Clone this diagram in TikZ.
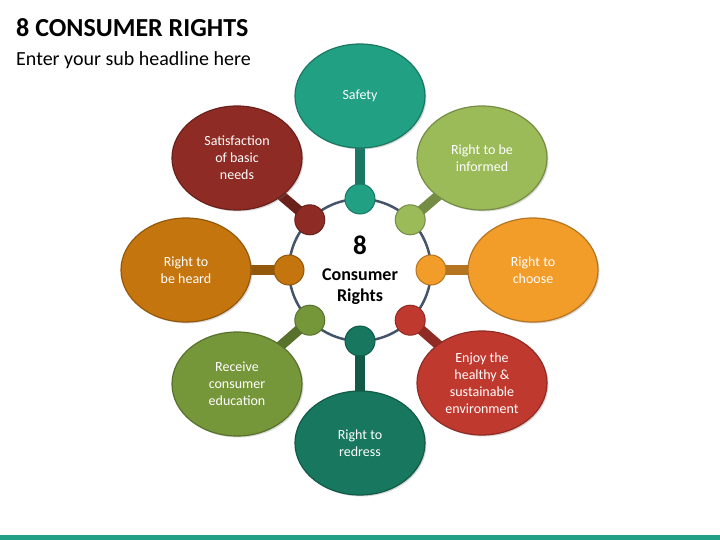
\documentclass[tikz,border=0pt]{standalone}
\usepackage{fontspec}
\setmainfont{Carlito}
\usetikzlibrary{shapes.geometric}
\usetikzlibrary{backgrounds}
\usetikzlibrary{shadows}

\definecolor{safetyC}{HTML}{21A084}
\definecolor{informC}{HTML}{9BBB59}
\definecolor{chooseC}{HTML}{F29C2A}
\definecolor{enjoyC}{HTML}{C0392F}
\definecolor{redressC}{HTML}{17785F}
\definecolor{educC}{HTML}{76963A}
\definecolor{heardC}{HTML}{C5750E}
\definecolor{satisC}{HTML}{8D2B24}
\definecolor{ringC}{HTML}{44546A}
\definecolor{barC}{HTML}{22A085}

\tikzset{
  hub/.style={circle, draw=ringC, line width=2.5pt, fill=white,
    minimum size=142pt, inner sep=0pt, outer sep=0pt, align=center,
    font=\bfseries\fontsize{18}{21}\selectfont},
  dot/.style={circle, minimum size=30pt, inner sep=0pt,
    fill=#1, draw=#1!75!black, line width=1pt},
  bubble/.style={ellipse, minimum width=130pt, minimum height=104pt,
    inner sep=0pt, fill=#1, draw=#1!75!black, line width=1.2pt,
    text=white, align=center, font=\fontsize{14}{17}\selectfont,
    drop shadow={shadow xshift=1.5pt, shadow yshift=-1.5pt, opacity=0.3}},
  link/.style={line width=10pt, draw=#1!75!black}
}

\begin{document}
\begin{tikzpicture}[x=1pt,y=-1pt]
  \useasboundingbox (0,0) rectangle (720,540);

  % heading
  \node[anchor=base west, inner sep=0pt, font=\bfseries\fontsize{26}{30}\selectfont] (title) at (16,37) {8 CONSUMER RIGHTS};
  \node[anchor=base west, inner sep=0pt, font=\fontsize{20}{24}\selectfont] (subtitle) at (16,66) {Enter your sub headline here};

  % bottom bar
  \fill[barC] (0,535) rectangle (720,540);

  % central ring
  \node[hub] (hub) at (360,270) {{\fontsize{27}{27}\selectfont 8}\\[5pt] Consumer\\ Rights};

  % small circles on the ring
  \foreach \name/\ang/\col in {safe/90/safetyC, inform/45/informC, choose/0/chooseC,
      enjoy/-45/enjoyC, redress/-90/redressC, educ/-135/educC, heard/180/heardC, satis/135/satisC}
    \node[dot=\col] (d-\name) at (hub.\ang) {};

  % rights
  \node[bubble=safetyC] (safe) at (360,96) {Safety};
  \node[bubble=informC] (inform) at (482,158) {Right to be\\informed};
  \node[bubble=chooseC] (choose) at (533,270) {Right to\\choose};
  \node[bubble=enjoyC] (enjoy) at (482,383) {Enjoy the\\healthy \&\\sustainable\\environment};
  \node[bubble=redressC] (redress) at (360,443) {Right to\\redress};
  \node[bubble=educC] (educ) at (237,384) {Receive\\consumer\\education};
  \node[bubble=heardC] (heard) at (186,270) {Right to\\be heard};
  \node[bubble=satisC] (satis) at (237,158) {Satisfaction\\of basic\\needs};

  % links behind everything
  \begin{scope}[on background layer]
    \foreach \name/\col in {safe/safetyC, inform/informC, choose/chooseC, enjoy/enjoyC,
        redress/redressC, educ/educC, heard/heardC, satis/satisC}
      \draw[link=\col] (d-\name.center) -- (\name.center);
  \end{scope}
\end{tikzpicture}
\end{document}
